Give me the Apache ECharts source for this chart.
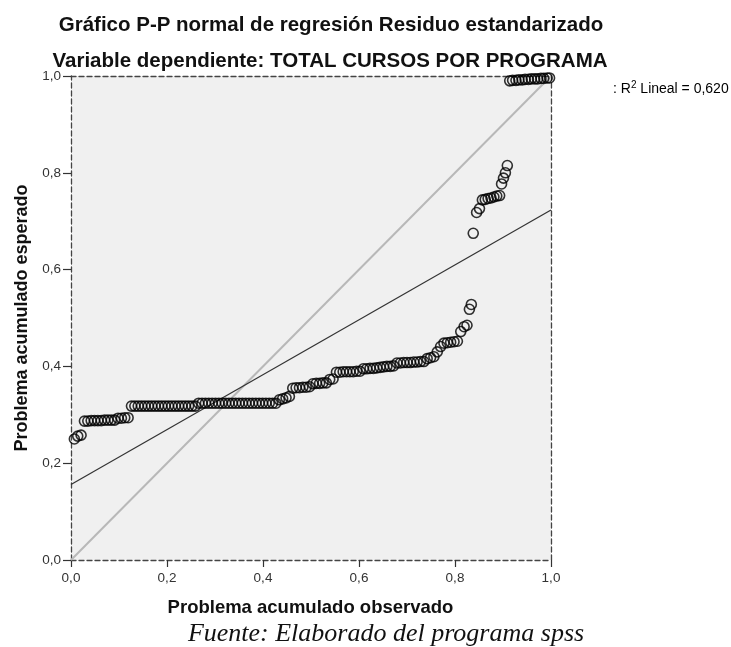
<!DOCTYPE html>
<html>
<head>
<meta charset="utf-8">
<script src="https://cdn.jsdelivr.net/npm/echarts@6/dist/echarts.min.js"></script>
<style>
html,body{margin:0;padding:0;background:#fff;}
#chart{width:731px;height:647px;}
</style>
</head>
<body>
<div id="chart"></div>
<script>
// Observed cumulative probability (x) of each case
var obsX = [
0.007,0.014,0.021,
0.028,0.035,0.042,0.049,0.056,0.063,0.070,0.077,0.084,0.091,
0.098,0.105,0.112,0.119,
0.126,0.133,0.140,0.147,0.154,0.161,0.168,0.175,0.182,0.189,0.196,0.203,0.210,0.217,0.224,0.231,0.238,0.245,0.252,0.259,
0.266,0.273,0.280,0.287,0.294,0.301,0.308,0.315,0.322,0.329,0.336,0.343,0.350,0.357,0.364,0.371,0.378,0.385,0.392,0.399,0.406,0.413,0.420,0.427,
0.434,0.441,0.448,0.455,
0.462,0.469,0.476,0.483,0.490,0.497,
0.504,0.511,0.518,0.525,0.532,
0.539,0.546,
0.553,0.560,0.567,0.574,0.581,0.588,0.595,0.602,
0.609,0.616,0.623,0.630,0.637,0.644,0.651,0.658,0.665,0.672,
0.679,0.686,0.693,0.700,0.707,0.714,0.721,0.728,0.735,
0.742,0.749,0.756,
0.763,0.770,
0.777,0.784,0.791,0.798,0.805,
0.812,0.819,0.825,0.830,0.834,
0.838,
0.845,0.851,
0.857,0.863,0.869,0.875,0.881,0.887,0.893,
0.897,0.901,0.905,0.909,
0.914,0.920,0.927,0.933,0.940,0.946,0.953,0.959,0.966,0.972,0.979,0.985,0.992,0.997
];
// Expected cumulative probability (y) of each case
var expY = [
0.250,0.256,0.258,
0.287,0.287,0.288,0.288,0.288,0.288,0.289,0.289,0.289,0.289,
0.293,0.293,0.294,0.294,
0.318,0.318,0.318,0.318,0.318,0.318,0.318,0.318,0.318,0.318,0.318,0.318,0.318,0.318,0.318,0.318,0.318,0.318,0.318,0.318,
0.324,0.324,0.324,0.324,0.324,0.324,0.324,0.324,0.324,0.324,0.324,0.324,0.324,0.324,0.324,0.324,0.324,0.324,0.324,0.324,0.324,0.324,0.324,0.324,
0.331,0.333,0.335,0.338,
0.355,0.356,0.356,0.357,0.357,0.358,
0.364,0.365,0.365,0.366,0.366,
0.373,0.374,
0.388,0.388,0.389,0.389,0.389,0.389,0.390,0.390,
0.395,0.395,0.396,0.396,0.397,0.398,0.399,0.400,0.400,0.401,
0.407,0.407,0.408,0.408,0.408,0.409,0.409,0.410,0.410,
0.416,0.418,0.420,
0.430,0.441,
0.448,0.449,0.450,0.451,0.452,
0.472,0.482,0.485,0.518,0.528,
0.675,
0.718,0.726,
0.744,0.745,0.747,0.748,0.750,0.752,0.753,
0.777,0.789,0.800,0.815,
0.990,0.991,0.991,0.992,0.992,0.993,0.993,0.994,0.994,0.994,0.995,0.995,0.996,0.996
];
// Reference diagonal and fitted line
var diagLine = [[0, 0], [1, 1]];
var fitLine = [[0, 0.156], [1, 0.723]];
var axisTicks = [0, 0.2, 0.4, 0.6, 0.8, 1.0];
var titleText = 'Gráfico P-P normal de regresión Residuo estandarizado';
var subtitleText = 'Variable dependiente: TOTAL CURSOS POR PROGRAMA';
var xTitle = 'Problema acumulado observado';
var yTitle = 'Problema acumulado esperado';
var sourceText = 'Fuente: Elaborado del programa spss';
var r2Text = '0,620';

var points = [];
for (var i = 0; i < Math.min(obsX.length, expY.length); i++) points.push([obsX[i], expY[i]]);

var fmt = function (v) { return v.toFixed(1).replace('.', ','); };
var FONT = '"Liberation Sans", Arial, sans-serif';
var dashed = { color: '#444', width: 1.3, type: [5, 3] };

var chart = echarts.init(document.getElementById('chart'));
chart.setOption({
  animation: false,
  backgroundColor: '#ffffff',
  grid: { left: 71, right: 180, top: 76, bottom: 87, show: true, backgroundColor: '#f0f0f0', borderWidth: 0 },
  xAxis: [{
    type: 'value', min: 0, max: 1, interval: 0.2, position: 'bottom',
    axisLine: { show: true, onZero: false, lineStyle: dashed },
    axisTick: { show: true, length: 7, lineStyle: { color: '#333', width: 1.2 } },
    axisLabel: { formatter: fmt, color: '#333', fontSize: 13.5, fontFamily: FONT, margin: 11 },
    splitLine: { show: false }
  }, {
    type: 'value', min: 0, max: 1, position: 'top',
    axisLine: { show: true, onZero: false, lineStyle: dashed },
    axisTick: { show: false }, axisLabel: { show: false }, splitLine: { show: false }
  }],
  yAxis: [{
    type: 'value', min: 0, max: 1, interval: 0.2, position: 'left',
    axisLine: { show: true, onZero: false, lineStyle: dashed },
    axisTick: { show: true, length: 8, lineStyle: { color: '#333', width: 1.2 } },
    axisLabel: { formatter: fmt, color: '#333', fontSize: 13.5, fontFamily: FONT, margin: 10 },
    splitLine: { show: false }
  }, {
    type: 'value', min: 0, max: 1, position: 'right',
    axisLine: { show: true, onZero: false, lineStyle: dashed },
    axisTick: { show: false }, axisLabel: { show: false }, splitLine: { show: false }
  }],
  series: [{
    type: 'line', data: diagLine, symbol: 'none', silent: true,
    lineStyle: { color: '#b8b8b8', width: 2 }, z: 2
  }, {
    type: 'line', data: fitLine, symbol: 'none', silent: true,
    lineStyle: { color: '#333', width: 1.2 }, z: 3
  }, {
    type: 'scatter', data: points, symbol: 'circle', symbolSize: 10, clip: false,
    itemStyle: { color: 'rgba(0,0,0,0)', borderColor: '#000', borderWidth: 1.6 }, z: 4
  }],
  graphic: [
    { type: 'text', x: 331, y: 25, style: { text: titleText, font: 'bold 20.5px ' + FONT, fill: '#111', textAlign: 'center', textVerticalAlign: 'middle' } },
    { type: 'text', x: 330, y: 61, style: { text: subtitleText, font: 'bold 20.5px ' + FONT, fill: '#111', textAlign: 'center', textVerticalAlign: 'middle' } },
    { type: 'text', x: 310.5, y: 608, style: { text: xTitle, font: 'bold 18.5px ' + FONT, fill: '#111', textAlign: 'center', textVerticalAlign: 'middle' } },
    { type: 'text', x: 22, y: 318, rotation: Math.PI / 2, style: { text: yTitle, font: 'bold 18px ' + FONT, fill: '#111', textAlign: 'center', textVerticalAlign: 'middle' } },
    { type: 'text', x: 386, y: 634, style: { text: sourceText, font: 'italic 26px "Liberation Serif", "Times New Roman", serif', fill: '#111', textAlign: 'center', textVerticalAlign: 'middle' } },
    { type: 'text', x: 613, y: 89, style: {
        text: '{a|: R}{s|2}{a| Lineal = ' + r2Text + '}',
        textVerticalAlign: 'middle',
        rich: {
          a: { fontSize: 14, fontFamily: FONT, color: '#222' },
          s: { fontSize: 10, fontFamily: FONT, color: '#222', padding: [0, 0, 7, 0] }
        }
    } }
  ]
});
</script>
</body>
</html>
